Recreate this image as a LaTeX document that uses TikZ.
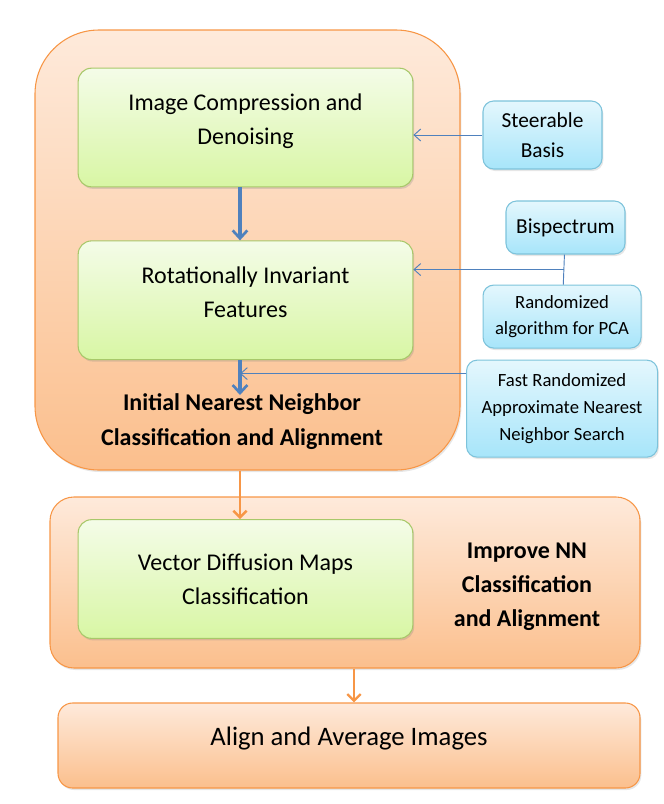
\documentclass[tikz,border=0pt]{standalone}
\usepackage{fontspec}
\setmainfont{Carlito}
\usepackage{xcolor}
\usepackage{tikz}
\usetikzlibrary{arrows.meta,positioning,calc,shadows}

\definecolor{orTop}{HTML}{FEEADB}
\definecolor{orBot}{HTML}{FBBF8D}
\definecolor{orLine}{HTML}{F79646}
\definecolor{grTop}{HTML}{F4FCE8}
\definecolor{grBot}{HTML}{D8F6A4}
\definecolor{grLine}{HTML}{A8C86A}
\definecolor{blTop}{HTML}{E4F7FD}
\definecolor{blBot}{HTML}{A7E5FA}
\definecolor{blLine}{HTML}{7DC3DB}
\definecolor{arBlue}{HTML}{4F81BD}

\begin{document}
\begin{tikzpicture}[
  x=0.75pt, y=-0.75pt,
  node distance=8mm,
  outer/.style={draw=orLine, line width=0.8pt, top color=orTop, bottom color=orBot,
    drop shadow={opacity=0.2, shadow xshift=1pt, shadow yshift=-1.5pt}},
  stage/.style={draw=grLine, line width=0.8pt, rounded corners=10pt, top color=grTop, bottom color=grBot,
    minimum width=251pt, minimum height=89pt, align=center, font=\fontsize{18}{25.5}\selectfont,
    drop shadow={opacity=0.25, shadow xshift=1pt, shadow yshift=-1.5pt}},
  tool/.style={draw=blLine, line width=0.8pt, rounded corners=8pt, top color=blTop, bottom color=blBot,
    align=center, drop shadow={opacity=0.2, shadow xshift=1pt, shadow yshift=-1.5pt}},
  label/.style={align=center, font=\bfseries\fontsize{18}{26}\selectfont},
  step arrow/.style={-{Straight Barb[length=6pt,width=11pt,line width=2pt]}, draw=arBlue, line width=2.4pt},
  flow/.style={-{Straight Barb[length=5pt,width=10pt,line width=1.8pt]}, draw=orLine, line width=2pt},
  link/.style={-{Straight Barb[length=5pt,width=9pt]}, draw=arBlue, line width=0.7pt}
]
\useasboundingbox (0,0) rectangle (664,804);

% outer stages
\node[outer, rounded corners=48pt, minimum width=318.75pt, minimum height=330pt] (o1) at (247.5,250) {};
\node[outer, rounded corners=18pt, minimum width=442.5pt, minimum height=128.25pt] (o2) at (345,582.5) {};
\node[outer, rounded corners=11pt, minimum width=436.5pt, minimum height=63.75pt,
  text depth=14pt, font=\fontsize{20}{24}\selectfont] (o3) at (349,745.5) {Align and Average Images};

% inner steps
\node[stage, text depth=12pt] (icd) at (245.5,127.5) {Image Compression and\\Denoising};
\node[stage, text depth=12pt, below=39.75pt of icd] (rif) {Rotationally Invariant\\Features};
\node[stage] (vdm) at (245.5,579) {Vector Diffusion Maps\\Classification};
\node[label] (nnc) at (242,421.5) {Initial Nearest Neighbor\\Classification and Alignment};
\node[label, font=\bfseries\fontsize{18}{25.5}\selectfont] (inn) at (527,587) {Improve NN\\Classification\\and Alignment};

% methods
\node[tool, minimum width=89.25pt, minimum height=51pt, font=\fontsize{16}{23}\selectfont] (sb) at (542.5,135) {Steerable\\Basis};
\node[tool, minimum width=89.25pt, minimum height=39.75pt, font=\fontsize{16}{20}\selectfont] (bs) at (565.5,227.5) {Bispectrum};
\node[tool, below=22.5pt of bs, xshift=-2.6pt, minimum width=118.5pt, minimum height=47.25pt,
  font=\fontsize{14}{19.5}\selectfont] (pca) {Randomized\\algorithm for PCA};
\node[tool, below=8.25pt of pca, minimum width=143.25pt, minimum height=72.75pt,
  font=\fontsize{14}{20}\selectfont] (ann) {Fast Randomized\\Approximate Nearest\\Neighbor Search};

\coordinate (jn) at ($(bs.south)!0.5!(pca.north)$);
\coordinate (fa) at ([yshift=-10.5pt]ann.north west);
\coordinate (nn) at (240,395);

\draw[step arrow] (icd.south -| nn) -- (rif.north -| nn);
\draw[step arrow] (rif.south -| nn) -- (nn);
\draw[link] (sb.west) -- (sb.west -| icd.east);
\draw[draw=arBlue, line width=0.7pt] (bs) -- (pca);
\draw[link] (jn) -- (jn -| rif.east);
\draw[link] (fa) -- (fa -| nn);
\draw[flow] (o1.south -| nn) -- (vdm.north -| nn);
\draw[flow] ([xshift=3.75pt]o2.south -| o3.north) -- ([xshift=3.75pt]o3.north);
\end{tikzpicture}
\end{document}
